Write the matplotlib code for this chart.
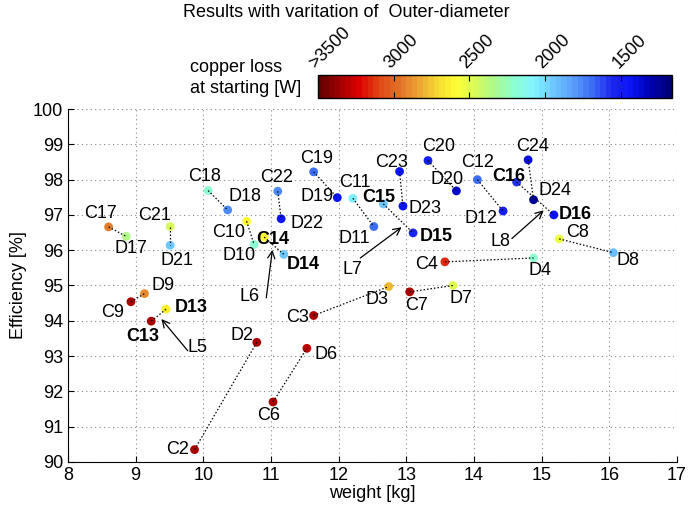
import matplotlib.pyplot as plt
import matplotlib as mpl
import numpy as np

plt.rcParams['font.family'] = ['Liberation Sans', 'DejaVu Sans']
plt.rcParams['font.size'] = 13

# pair numbers, C (start) and D (end) design points
pair_ids = [2, 3, 4, 6, 7, 8, 9, 10, 11, 12, 13, 14, 15, 16, 17, 18, 19, 20, 21, 22, 23, 24]
c_weight = [9.87, 11.63, 13.57, 11.03, 13.05, 15.26, 8.93, 10.64, 12.21, 14.05, 9.23, 10.90,
            12.66, 14.63, 8.60, 10.07, 11.63, 13.32, 9.51, 11.10, 12.90, 14.80]
c_eff = [90.35, 94.15, 95.67, 91.70, 94.82, 96.32, 94.54, 96.82, 97.47, 98.00, 93.99, 96.37,
         97.31, 97.93, 96.66, 97.69, 98.22, 98.54, 96.67, 97.67, 98.23, 98.56]
c_loss = [3350, 3350, 3150, 3350, 3350, 2550, 3350, 2600, 2050, 1700, 3350, 2600,
          1950, 1600, 2950, 2200, 1700, 1500, 2450, 1750, 1450, 1400]
d_weight = [10.79, 12.74, 14.88, 11.53, 13.69, 16.06, 9.13, 10.75, 12.52, 14.43, 9.45, 11.19,
            13.10, 15.18, 8.86, 10.36, 11.98, 13.74, 9.51, 11.15, 12.95, 14.88]
d_eff = [93.39, 94.97, 95.78, 93.22, 95.00, 95.93, 94.77, 96.16, 96.67, 97.11, 94.33, 95.88,
         96.49, 97.00, 96.39, 97.14, 97.49, 97.68, 96.14, 96.89, 97.25, 97.43]
d_loss = [3350, 2800, 2200, 3300, 2500, 1900, 2900, 2200, 1700, 1500, 2650, 1950,
          1550, 1450, 2350, 1750, 1450, 1350, 1950, 1450, 1450, 1250]
bold_ids = [13, 14, 15, 16]

# L-labels: text position, arrow start, arrow tip (weight, eff)
l_names = ['L5', 'L6', 'L7', 'L8']
l_lab = [(9.92, 93.24), (10.69, 94.69), (12.2, 95.45), (14.39, 96.24)]
l_tail = [(9.77, 93.15), (10.93, 94.65), (12.32, 95.78), (14.56, 96.33)]
l_tip = [(9.38, 94.05), (11.02, 96.01), (12.93, 96.65), (15.03, 97.13)]

# label offsets in pixels (x right, y up)
c_off = {2: (-17, 0), 3: (-16, -2), 4: (-18, -3), 6: (-4, -14), 7: (7, -14), 8: (18, 6),
         9: (-18, -11), 10: (-18, -11), 11: (2, 16), 12: (0, 17), 13: (-8, -15), 14: (9, -2),
         15: (-5, 6), 16: (-8, 6), 17: (-8, 13), 18: (-4, 14), 19: (3, 13), 20: (11, 14),
         21: (-16, 11), 22: (-1, 14), 23: (-8, 9), 24: (4, 13)}
d_off = {2: (-15, 7), 3: (-12, -13), 4: (6, -13), 6: (19, -6), 7: (8, -13), 8: (15, -8),
         9: (19, 8), 10: (-15, -11), 11: (-20, -12), 12: (-22, -7), 13: (25, 2), 14: (19, -10),
         15: (23, -4), 16: (21, 0), 17: (5, -12), 18: (17, 13), 19: (-20, 1), 20: (-9, 11),
         21: (7, -15), 22: (26, -5), 23: (22, -2), 24: (21, 9)}

# softened jet, low loss (blue) -> high loss (dark red)
jet_soft = ['#000078', '#0000b4', '#0a14f5', '#1e28f0', '#3c6ef5', '#5aa0fa', '#6ec8ff',
            '#82f5ff', '#8cffd2', '#aafa8c', '#d7fa5a', '#ffff32', '#f5d732', '#eba032',
            '#e16e28', '#e14614', '#dc0000', '#a00000', '#640000']
cmap = mpl.colors.LinearSegmentedColormap.from_list('jet_soft', jet_soft, N=64)
norm = mpl.colors.Normalize(vmin=1165, vmax=3500)

fig = plt.figure(figsize=(6.99, 5.08), dpi=100)
ax = fig.add_axes([0.0973, 0.0906, 0.8712, 0.6948])

for i, p in enumerate(pair_ids):
    ax.plot([c_weight[i], d_weight[i]], [c_eff[i], d_eff[i]], color='black',
            linestyle=(0, (1.2, 1.6)), linewidth=0.9, zorder=4)

ax.scatter(c_weight, c_eff, c=c_loss, cmap=cmap, norm=norm, s=40, zorder=3, linewidths=0)
ax.scatter(d_weight, d_eff, c=d_loss, cmap=cmap, norm=norm, s=40, zorder=3, linewidths=0)

for i, p in enumerate(pair_ids):
    fw = 'bold' if p in bold_ids else 'normal'
    ax.annotate('C%d' % p, (c_weight[i], c_eff[i]), xytext=c_off[p], textcoords='offset pixels',
                ha='center', va='center', fontweight=fw, zorder=5)
    ax.annotate('D%d' % p, (d_weight[i], d_eff[i]), xytext=d_off[p], textcoords='offset pixels',
                ha='center', va='center', fontweight=fw, zorder=5)

for name, (lx, ly), (tx, ty), (hx, hy) in zip(l_names, l_lab, l_tail, l_tip):
    ax.annotate('', xy=(hx, hy), xytext=(tx, ty),
                arrowprops=dict(arrowstyle='->', color='black', lw=0.9, shrinkA=0, shrinkB=0))
    ax.text(lx, ly, name, ha='center', va='center')

ax.set_xlim(8, 17)
ax.set_ylim(90, 100)
ax.set_xticks(np.arange(8, 18, 1))
ax.set_yticks(np.arange(90, 101, 1))
ax.grid(True, color='#888888', linestyle=(0, (1, 3)), linewidth=0.8)
ax.spines['top'].set_visible(False)
ax.spines['right'].set_visible(False)
ax.tick_params(direction='in', length=4)
ax.set_xlabel('weight [kg]', labelpad=1)
ax.set_ylabel('Efficiency [%]', labelpad=4)

# colour bar
cax = fig.add_axes([0.4545, 0.8077, 0.5069, 0.0453])
sm = mpl.cm.ScalarMappable(norm=norm, cmap=cmap)
cb = fig.colorbar(sm, cax=cax, orientation='horizontal')
cb.set_ticks([3500, 3000, 2500, 2000, 1500])
cb.set_ticklabels(['>3500', '3000', '2500', '2000', '1500'])
cax.invert_xaxis()
cax.xaxis.set_ticks_position('both')
cax.tick_params(direction='in', length=4, labeltop=True, labelbottom=False, pad=2)
for lab in cax.get_xticklabels():
    lab.set_rotation(45)
    lab.set_ha('left')
    lab.set_va('bottom')
    lab.set_rotation_mode('anchor')
cb.outline.set_linewidth(1.0)

fig.text(0.262, 0.976, 'Results with varitation of  Outer-diameter', ha='left', va='center')
fig.text(0.272, 0.847, 'copper loss\nat starting [W]', ha='left', va='center', linespacing=1.3)

fig.savefig('out.png', dpi=100)
